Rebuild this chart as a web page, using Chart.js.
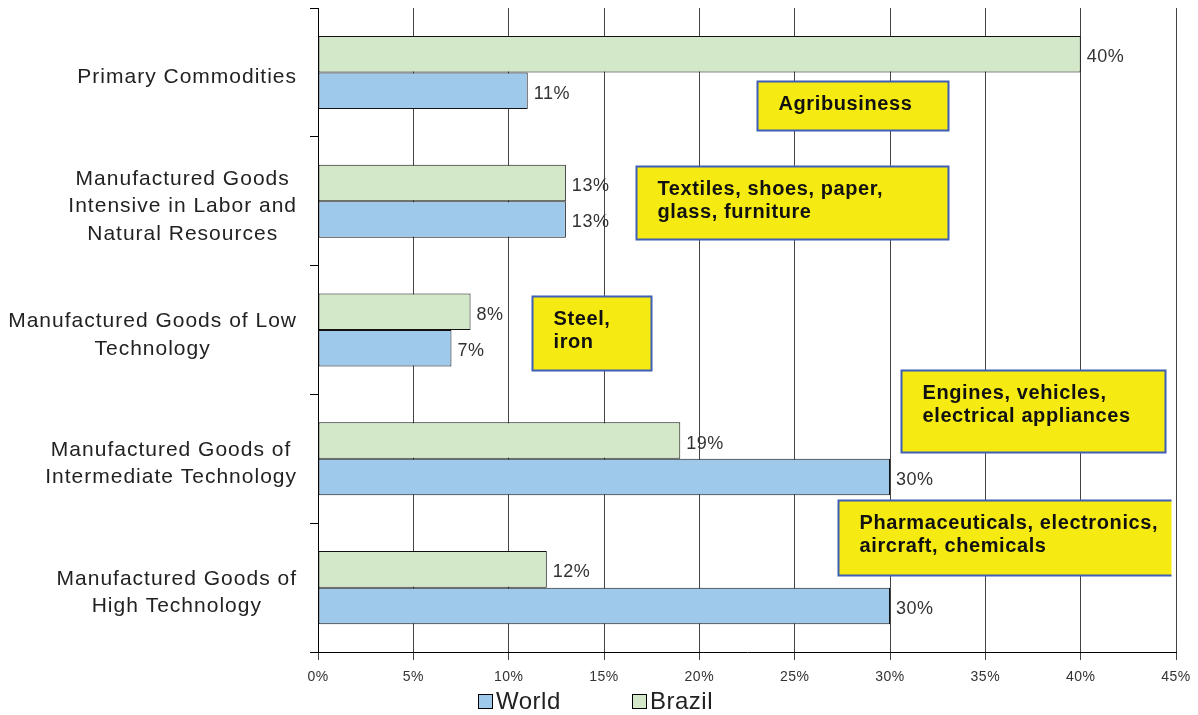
<!DOCTYPE html>
<html>
<head>
<meta charset="utf-8">
<title>Brazil vs World exports</title>
<script src="https://cdn.jsdelivr.net/npm/chart.js@4.4.0/dist/chart.umd.min.js"></script>
<style>
    html, body { margin: 0; padding: 0; background: #fff; }
    #wrap { width: 1198px; height: 715px; position: relative; }
</style>
</head>
<body>
<div id="wrap"><canvas id="myBarChart"></canvas></div>
<script>
// category names (each one split into its lines)
var categories = [
    ['Primary Commodities'],
    ['Manufactured Goods', 'Intensive in Labor and', 'Natural Resources'],
    ['Manufactured Goods of Low', 'Technology'],
    ['Manufactured Goods of', 'Intermediate Technology'],
    ['Manufactured Goods of', 'High Technology']
];
var seriesNames = ['World', 'Brazil'];
var worldValues = [11, 13, 7, 30, 30];
var brazilValues = [40, 13, 8, 19, 12];
var xTickValues = [0, 5, 10, 15, 20, 25, 30, 35, 40, 45];

// yellow note boxes: text lines
var noteTexts = [
    ['Agribusiness'],
    ['Textiles, shoes, paper,', 'glass, furniture'],
    ['Steel,', 'iron'],
    ['Engines, vehicles,', 'electrical appliances'],
    ['Pharmaceuticals, electronics,', 'aircraft, chemicals']
];

var worldColor = '#9fc9eb';
var brazilColor = '#d3e8c8';
var FONT = '"Liberation Sans", Arial, sans-serif';

// where the notes sit, in axis units (x = %, y = category index)
var notePlaces = [
    { x0: 23.0, x1: 33.05, y0: 0.07, y1: 0.445, right: true },
    { x0: 16.7, x1: 33.05, y0: 0.73, y1: 1.295, right: true },
    { x0: 11.2, x1: 17.45, y0: 1.735, y1: 2.31, right: true },
    { x0: 30.6, x1: 44.4, y0: 2.31, y1: 2.945, right: true },
    { x0: 27.25, x1: 44.75, y0: 3.32, y1: 3.9, right: false }
];

var spacingPlugin = {
    id: 'spacing',
    beforeLayout: function (chart) { chart.ctx.letterSpacing = '0.5px'; },
    beforeDraw: function (chart) { chart.ctx.letterSpacing = '0.5px'; }
};

var extrasPlugin = {
    id: 'extras',
    afterDatasetsDraw: function (chart) {
        const ctx = chart.ctx;
        const xs = chart.scales.x;
        const ys = chart.scales.y;

        // value labels beside the bars
        ctx.save();
        ctx.font = '18px ' + FONT;
        ctx.letterSpacing = '0.5px';
        ctx.fillStyle = '#333';
        ctx.textAlign = 'left';
        ctx.textBaseline = 'middle';
        chart.data.datasets.forEach(function (ds, di) {
            const meta = chart.getDatasetMeta(di);
            meta.data.forEach(function (bar, i) {
                ctx.fillText(ds.data[i] + '%', bar.x + 6, bar.y + 3);
            });
        });
        ctx.restore();

        // category labels, each block centred on itself, right edge at the axis
        ctx.save();
        ctx.font = '21px ' + FONT;
        ctx.letterSpacing = '1px';
        ctx.fillStyle = '#222';
        ctx.textAlign = 'center';
        ctx.textBaseline = 'middle';
        const rightEdge = xs.left - 21;
        categories.forEach(function (lines, i) {
            let widest = 0;
            lines.forEach(function (l) { widest = Math.max(widest, ctx.measureText(l).width); });
            const cx = rightEdge - widest / 2;
            const cy = ys.getPixelForValue(i) + 5;
            const lh = 27.5;
            lines.forEach(function (l, k) {
                ctx.fillText(l, cx, cy + (k - (lines.length - 1) / 2) * lh);
            });
        });
        ctx.restore();

        // yellow notes
        ctx.save();
        notePlaces.forEach(function (p, i) {
            const left = Math.round(xs.getPixelForValue(p.x0)) + 0.5;
            const right = Math.round(xs.getPixelForValue(p.x1)) + 0.5;
            const top = Math.round(ys.getPixelForValue(p.y0)) + 0.5;
            const bottom = Math.round(ys.getPixelForValue(p.y1)) + 0.5;
            ctx.fillStyle = '#f5eb12';
            ctx.fillRect(left, top, right - left, bottom - top);
            ctx.strokeStyle = '#3f5fb5';
            ctx.lineWidth = 2;
            ctx.beginPath();
            if (p.right) {
                ctx.rect(left, top, right - left, bottom - top);
            } else {
                ctx.moveTo(right, top);
                ctx.lineTo(left, top);
                ctx.lineTo(left, bottom);
                ctx.lineTo(right, bottom);
            }
            ctx.stroke();
            ctx.fillStyle = '#111';
            ctx.font = 'bold 20px ' + FONT;
            ctx.letterSpacing = '0.6px';
            ctx.textAlign = 'left';
            ctx.textBaseline = 'middle';
            noteTexts[i].forEach(function (l, k) {
                ctx.fillText(l, left + 21, top + 23 + k * 23);
            });
        });
        ctx.restore();
    },
    afterDraw: function (chart) {
        // legend under the axis labels
        const ctx = chart.ctx;
        ctx.save();
        ctx.font = '24px ' + FONT;
        ctx.letterSpacing = '0.5px';
        ctx.textBaseline = 'middle';
        ctx.textAlign = 'left';
        const colors = [worldColor, brazilColor];
        const starts = [478, 632];
        seriesNames.forEach(function (name, i) {
            const x = starts[i];
            ctx.fillStyle = colors[i];
            ctx.fillRect(x + 0.5, 694.5, 14, 14);
            ctx.strokeStyle = '#000';
            ctx.lineWidth = 1;
            ctx.strokeRect(x + 0.5, 694.5, 14, 14);
            ctx.fillStyle = '#222';
            ctx.fillText(name, x + 18, 702);
        });
        ctx.restore();
    }
};

const ctx = document.getElementById('myBarChart').getContext('2d');
new Chart(ctx, {
    type: 'bar',
    data: {
        labels: categories.map(function (c) { return c.join(' '); }),
        datasets: [
            {
                label: seriesNames[1],
                data: brazilValues,
                backgroundColor: brazilColor,
                borderColor: '#111',
                borderWidth: 1,
                borderSkipped: false
            },
            {
                label: seriesNames[0],
                data: worldValues,
                backgroundColor: worldColor,
                borderColor: '#111',
                borderWidth: 1,
                borderSkipped: false
            }
        ]
    },
    options: {
        indexAxis: 'y',
        responsive: true,
        maintainAspectRatio: false,
        animation: false,
        layout: {
            padding: { left: 310, right: 22, top: 8, bottom: 21 }
        },
        datasets: {
            bar: { categoryPercentage: 0.567, barPercentage: 1 }
        },
        scales: {
            x: {
                min: 0,
                max: 45,
                afterBuildTicks: function (axis) {
                    axis.ticks = xTickValues.map(function (v) { return { value: v }; });
                },
                grid: {
                    color: '#444',
                    lineWidth: 1,
                    tickLength: 8,
                    tickColor: '#444'
                },
                border: { color: '#000', width: 1 },
                ticks: {
                    padding: 2,
                    color: '#333',
                    font: { family: FONT, size: 14, lineHeight: 2.14 },
                    maxRotation: 0,
                    callback: function (v) { return v + '%'; }
                }
            },
            y: {
                grid: {
                    offset: true,
                    drawOnChartArea: false,
                    tickLength: 8,
                    color: '#000'
                },
                border: { color: '#000', width: 1 },
                ticks: { display: false }
            }
        },
        plugins: {
            legend: { display: false },
            tooltip: { enabled: false }
        }
    },
    plugins: [spacingPlugin, extrasPlugin]
});
</script>
</body>
</html>
